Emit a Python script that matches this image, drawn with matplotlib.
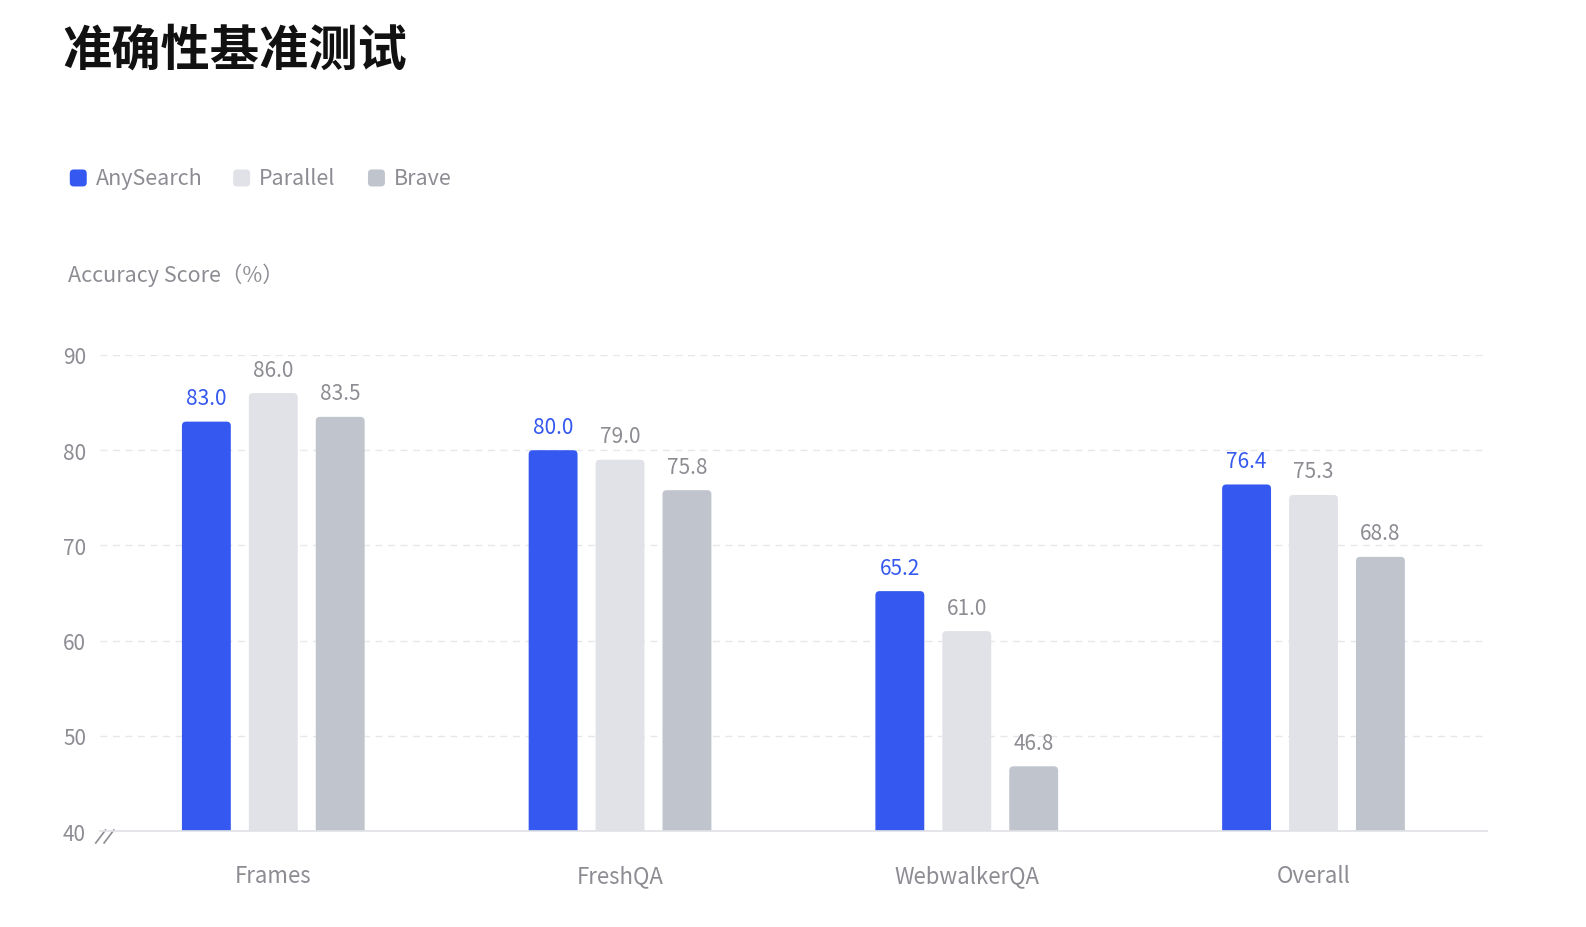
import matplotlib
matplotlib.use("Agg")
import matplotlib.pyplot as plt
from matplotlib.patches import FancyBboxPatch
import numpy as np

plt.rcParams['font.family'] = ['Noto Sans CJK SC', 'DejaVu Sans']

categories = ["Frames", "FreshQA", "WebwalkerQA", "Overall"]
series_names = ["AnySearch", "Parallel", "Brave"]
anysearch = [83.0, 80.0, 65.2, 76.4]
parallel = [86.0, 79.0, 61.0, 75.3]
brave = [83.5, 75.8, 46.8, 68.8]
yticks = [40, 50, 60, 70, 80, 90]

colors = ["#3559F0", "#E1E2E7", "#C0C4CC"]
label_colors = ["#3559F0", "#8C8C93", "#8C8C93"]
grey = "#8C8C93"

fig = plt.figure(figsize=(15.86, 9.28), dpi=100)
ax = fig.add_axes([0.063, 0.1034, 0.8745, 0.513])

x = np.arange(len(categories))
width = 0.141
offset = 0.193
rx = 0.012   # corner radius in x data units
ry = 0.45    # corner radius in y data units
for i, vals in enumerate([anysearch, parallel, brave]):
    pos = x + (i - 1) * offset
    for px, v in zip(pos, vals):
        # start below the axis so only the top corners show rounded
        p = FancyBboxPatch((px - width / 2, 38), width, v - 38,
                           boxstyle=f"round,pad=0,rounding_size={rx}",
                           mutation_aspect=ry / rx,
                           facecolor=colors[i], edgecolor="none", zorder=3)
        ax.add_patch(p)
        ax.annotate(f"{v:.1f}", (px, v), xytext=(0, 9), textcoords="offset points",
                    ha="center", va="bottom", fontsize=15, color=label_colors[i])

ax.set_xlim(-0.5, 3.5)
ax.set_ylim(40, 90)
ax.set_yticks(yticks)
ax.set_xticks(x)
ax.set_xticklabels(categories)
ax.tick_params(axis='x', length=0, pad=24, labelsize=16, labelcolor=grey)
ax.tick_params(axis='y', length=0, pad=10, labelsize=15, labelcolor=grey)
ax.grid(axis='y', linestyle=(0, (5, 4)), color="#E6E7EA", linewidth=1, zorder=0)
for s in ["left", "right", "top"]:
    ax.spines[s].set_visible(False)
ax.spines["bottom"].set_color("#E0E1E5")
ax.spines["bottom"].set_linewidth(1.2)
ax.spines["bottom"].set_zorder(4)

# axis break mark
for dx in [0, 0.006]:
    ax.plot([-0.003 + dx, 0.004 + dx], [-0.025, 0.002], transform=ax.transAxes,
            color="#8C8C93", linewidth=1.2, clip_on=False)

fig.text(0.039, 0.945, "准确性基准测试", fontsize=35.5, fontweight="bold",
         color="#111111", ha="left", va="center")
fig.text(0.043, 0.703, "Accuracy Score（%）", fontsize=15.5, color=grey,
         ha="left", va="center")

# legend
leg_x = [0.044, 0.147, 0.232]
for lx, name, c in zip(leg_x, series_names, colors):
    fig.patches.append(FancyBboxPatch(
        (lx, 0.798), 0.0107, 0.0183, boxstyle="round,pad=0,rounding_size=0.0025",
        mutation_aspect=1586 / 928, transform=fig.transFigure,
        facecolor=c, edgecolor="none"))
    fig.text(lx + 0.0165, 0.807, name, fontsize=15.5, color=grey, ha="left", va="center")

fig.savefig("out.png", dpi=100)
